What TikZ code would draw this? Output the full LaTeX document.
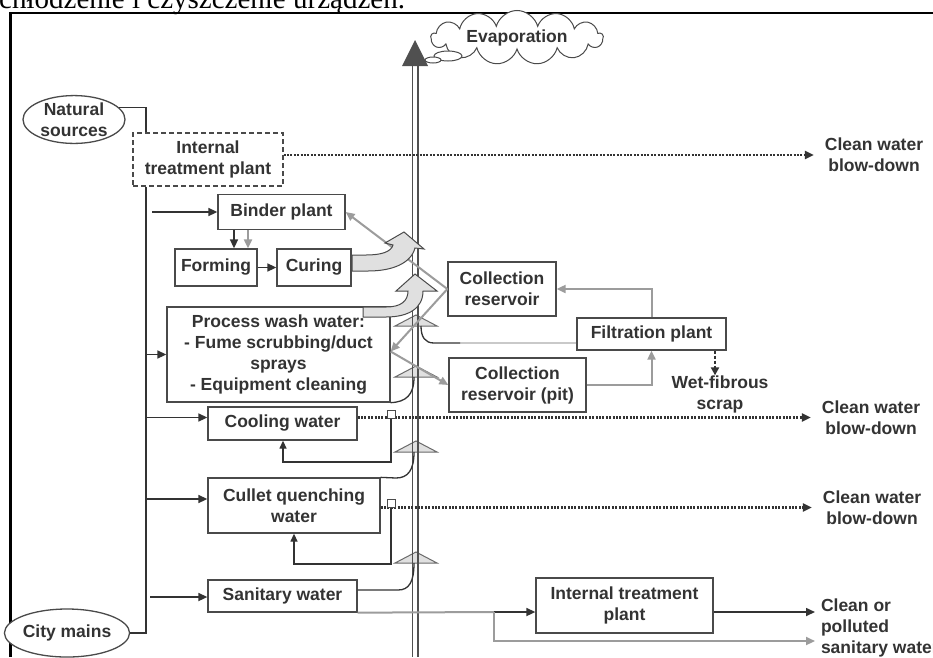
\documentclass[tikz,border=0pt]{standalone}
\usepackage{fontspec}
\newfontfamily\diagfont{Liberation Sans}
\newfontfamily\pagefont{Liberation Serif}
\usetikzlibrary{arrows.meta,shapes.geometric,shapes.symbols}
\definecolor{ink}{HTML}{333333}
\definecolor{boxline}{HTML}{4A4A4A}
\definecolor{flowgray}{HTML}{9C9C9C}
\definecolor{pipegray}{HTML}{505050}
\definecolor{lightfill}{HTML}{E0E0E0}

\begin{document}
\begin{tikzpicture}[x=1pt, y=-1pt, >={Triangle[length=9pt,width=8pt]},
    font=\diagfont\bfseries\fontsize{17.5}{21}\selectfont,
    plantbox/.style={draw=boxline, line width=1.3pt, fill=white, text=ink, align=center, inner sep=0pt},
    srcell/.style={ellipse, draw=boxline, line width=1.3pt, fill=white, text=ink, align=center, inner sep=0pt},
    feedline/.style={->, color=ink, line width=1.6pt},
    retline/.style={color=ink, line width=1.3pt},
    grayflow/.style={->, color=flowgray, line width=2pt},
    bleedline/.style={->, color=ink, line width=2.3pt, dash pattern=on 2pt off 1.4pt},
    outlabel/.style={text=ink, inner sep=0pt, outer sep=11pt, align=center},
    teeshape/.style={fill=lightfill, draw=pipegray!85, line width=1pt},
    bigarrow/.style={fill=lightfill, draw=boxline, line width=1pt},
    valvebox/.style={draw=boxline, line width=1pt, fill=white, minimum size=8pt, inner sep=0pt}]

\useasboundingbox (0,0) rectangle (933,657);
\clip (0,0) rectangle (933,657);
\fill[white] (0,0) rectangle (933,657);

% page text and frame
\node[anchor=base west, inner sep=0pt, text=black, font=\pagefont\mdseries\fontsize{29}{30}\selectfont] (caption) at (-1,8.5) {chłodzenie i czyszczenie urządzeń.};
\draw[black, line width=2.4pt] (10.5,657) -- (10.5,13) -- (933,13);

% tee points on the stack
\foreach \ty in {326,377,452,563}
  \draw[teeshape] (395,\ty) -- (416,{\ty-11}) -- (437,\ty) -- cycle;

% stack to evaporation
\fill[pipegray] (402,66) -- (415,40) -- (428,66) -- cycle;
\draw[pipegray, line width=1.8pt] (412.5,66) -- (412.5,657) (418,66) -- (418,657);

% sources
\node[srcell, minimum width=102pt, minimum height=45pt] (natural) at (74,119.5) {Natural\\sources};
\node[srcell, minimum width=101pt, minimum height=48pt] (citymains) at (67,633) {City mains};

% plants
\node[plantbox, dash pattern=on 5pt off 3pt, minimum width=150pt, minimum height=53pt] (itp1) at (208,159.5) {Internal\\treatment plant};
\node[plantbox, minimum width=127pt, minimum height=35pt] (binder) at (281.5,212) {Binder plant};
\node[plantbox, minimum width=82pt, minimum height=37pt] (forming) at (216,267.5) {Forming};
\node[plantbox, minimum width=74pt, minimum height=37pt] (curing) at (314,267.5) {Curing};
\node[plantbox, minimum width=223pt, minimum height=95pt] (wash) at (278.5,354.5) {Process wash water:\\- Fume scrubbing/duct\\sprays\\- Equipment cleaning};
\node[plantbox, minimum width=149pt, minimum height=33pt] (cooling) at (282.5,423.5) {Cooling water};
\node[plantbox, minimum width=172pt, minimum height=55pt] (cullet) at (294,505.5) {Cullet quenching\\water};
\node[plantbox, minimum width=149pt, minimum height=32pt] (sanitary) at (282.5,596) {Sanitary water};
\node[plantbox, minimum width=108pt, minimum height=54pt] (collres) at (502,289) {Collection\\reservoir};
\node[plantbox, minimum width=149pt, minimum height=32pt] (filtr) at (651.5,334) {Filtration plant};
\node[plantbox, minimum width=137pt, minimum height=54pt] (pit) at (517.5,385) {Collection\\reservoir (pit)};
\node[plantbox, minimum width=177pt, minimum height=55pt] (itp2) at (624.5,605.5) {Internal treatment\\plant};

% outlets
\node[outlabel] (blow1) at (874,155) {Clean water\\blow-down};
\node[outlabel] (blow2) at (871,417.5) {Clean water\\blow-down};
\node[outlabel] (blow3) at (872,507.5) {Clean water\\blow-down};
\node[outlabel, outer sep=0pt] (wetscrap) at (720,394) {Wet-fibrous\\scrap};
\node[outlabel, outer sep=0pt, anchor=west, align=left] (sanout) at (821,627.5) {Clean or\\polluted\\sanitary water};

\coordinate (trunkbot) at (146,633);
\coordinate (binderfeed) at (152,212);
\coordinate (cullfeed) at (146,499);
\coordinate (sanfeed) at (150,597);
\coordinate (coolret) at (283,462);
\coordinate (cullret) at (294,564);
\coordinate (sanjoin) at (494,612);
\coordinate (cleanA) at (815,612);
\coordinate (cleanB) at (815,641);

% supply trunk
\draw[retline] (natural.15) -| (itp1.north -| trunkbot);
\draw[retline] (itp1.south -| trunkbot) -- (trunkbot) -- (citymains.east);

% feeds
\draw[feedline] (binderfeed) -- (binder.west);
\draw[feedline] (trunkbot |- wash.west) -- (wash.west);
\draw[feedline] (trunkbot |- blow2.west) -- (cooling.west |- blow2.west);
\draw[feedline] (cullfeed) -- (cullfeed -| cullet.west);
\draw[feedline] (sanfeed) -- (sanfeed -| sanitary.west);

% binder line
\draw[feedline] ([xshift=-47.5pt]binder.south) -- ([xshift=-47.5pt]binder.south |- forming.north);
\draw[grayflow] ([xshift=-33.5pt]binder.south) -- ([xshift=-33.5pt]binder.south |- forming.north);
\draw[feedline] (forming) -- (curing);

% recycled water
\draw[grayflow] (collres.west) -- (binder.east);
\draw[grayflow] (collres.west) -- ([yshift=3pt]wash.east);
\draw[grayflow] ([yshift=3pt]wash.east) -- (pit.west);
\draw[grayflow] (pit.east) -| (filtr.south);
\draw[grayflow] (filtr.north) |- (collres.east);
\draw[->, color=ink, line width=2pt, dash pattern=on 3pt off 2pt, >={Triangle[length=8pt,width=8pt]}] ([xshift=63.5pt]filtr.south) -- ([xshift=63.5pt]filtr.south |- wetscrap.north);

% returns into the stack
\draw[color=flowgray!55, line width=1.3pt] ([yshift=-9pt]filtr.west) -- (460,343);
\draw[retline] (460,343) -- (434,343) .. controls (425,343) and (421,337) .. (421,326);
\draw[retline] (wash.south east) .. controls (406,402) and (414,395) .. (414,377);
\draw[retline] (cullet.north east) -- (396,478) .. controls (408,478) and (414,470) .. (414,452);
\draw[retline] ([yshift=6pt]sanitary.east) -- (398,590) .. controls (409,590) and (414,582) .. (414,563);

% blow-down
\draw[bleedline] (itp1.east |- blow1.west) -- (blow1.west);
\draw[bleedline] (cooling.east |- blow2.west) -- (blow2.west);
\draw[bleedline] (cullet.east |- blow3.west) -- (blow3.west);
\node[valvebox] (sq1) at (391,414) {};
\node[valvebox] (sq2) at (391,503) {};
\draw[retline, ->, >={Triangle[length=8pt,width=7pt]}] (sq1.south) |- (coolret) -- (coolret |- cooling.south);
\draw[retline, ->, >={Triangle[length=8pt,width=7pt]}] (sq2.south) |- (cullret) -- (cullet.south);

% sanitary water
\draw[color=flowgray, line width=2pt] (sanitary.south east) -- (sanjoin);
\draw[feedline] (sanjoin) -- (sanjoin -| itp2.west);
\draw[feedline] (itp2.east |- cleanA) -- (cleanA);
\draw[grayflow] (sanjoin) |- (cleanB);

% exhaust
\draw[bigarrow] (352,255) -- (366,255) .. controls (381,255) and (391,252) .. (393,245) -- (385,243) -- (404,232) -- (424,249) -- (415,248) .. controls (411,263) and (393,271) .. (368,271) -- (352,271) -- cycle;
\draw[bigarrow] (363,307) -- (386,307) .. controls (401,307) and (408,301) .. (408,291) -- (396,291) -- (415,274) -- (437,291) -- (423,291) .. controls (423,308) and (409,317) .. (386,317) -- (363,317) -- cycle;

% evaporation
\node[cloud, cloud puffs=13, aspect=5, draw=boxline, line width=1pt, fill=white, text=ink, minimum width=172pt, minimum height=28pt, inner sep=0pt] (evap) at (517,37.5) {Evaporation};
\draw[boxline, fill=white, line width=1pt] (448,56) ellipse [x radius=14pt, y radius=5pt];
\draw[boxline, fill=white, line width=1pt] (433,60) ellipse [x radius=8pt, y radius=3pt];

\end{tikzpicture}
\end{document}
